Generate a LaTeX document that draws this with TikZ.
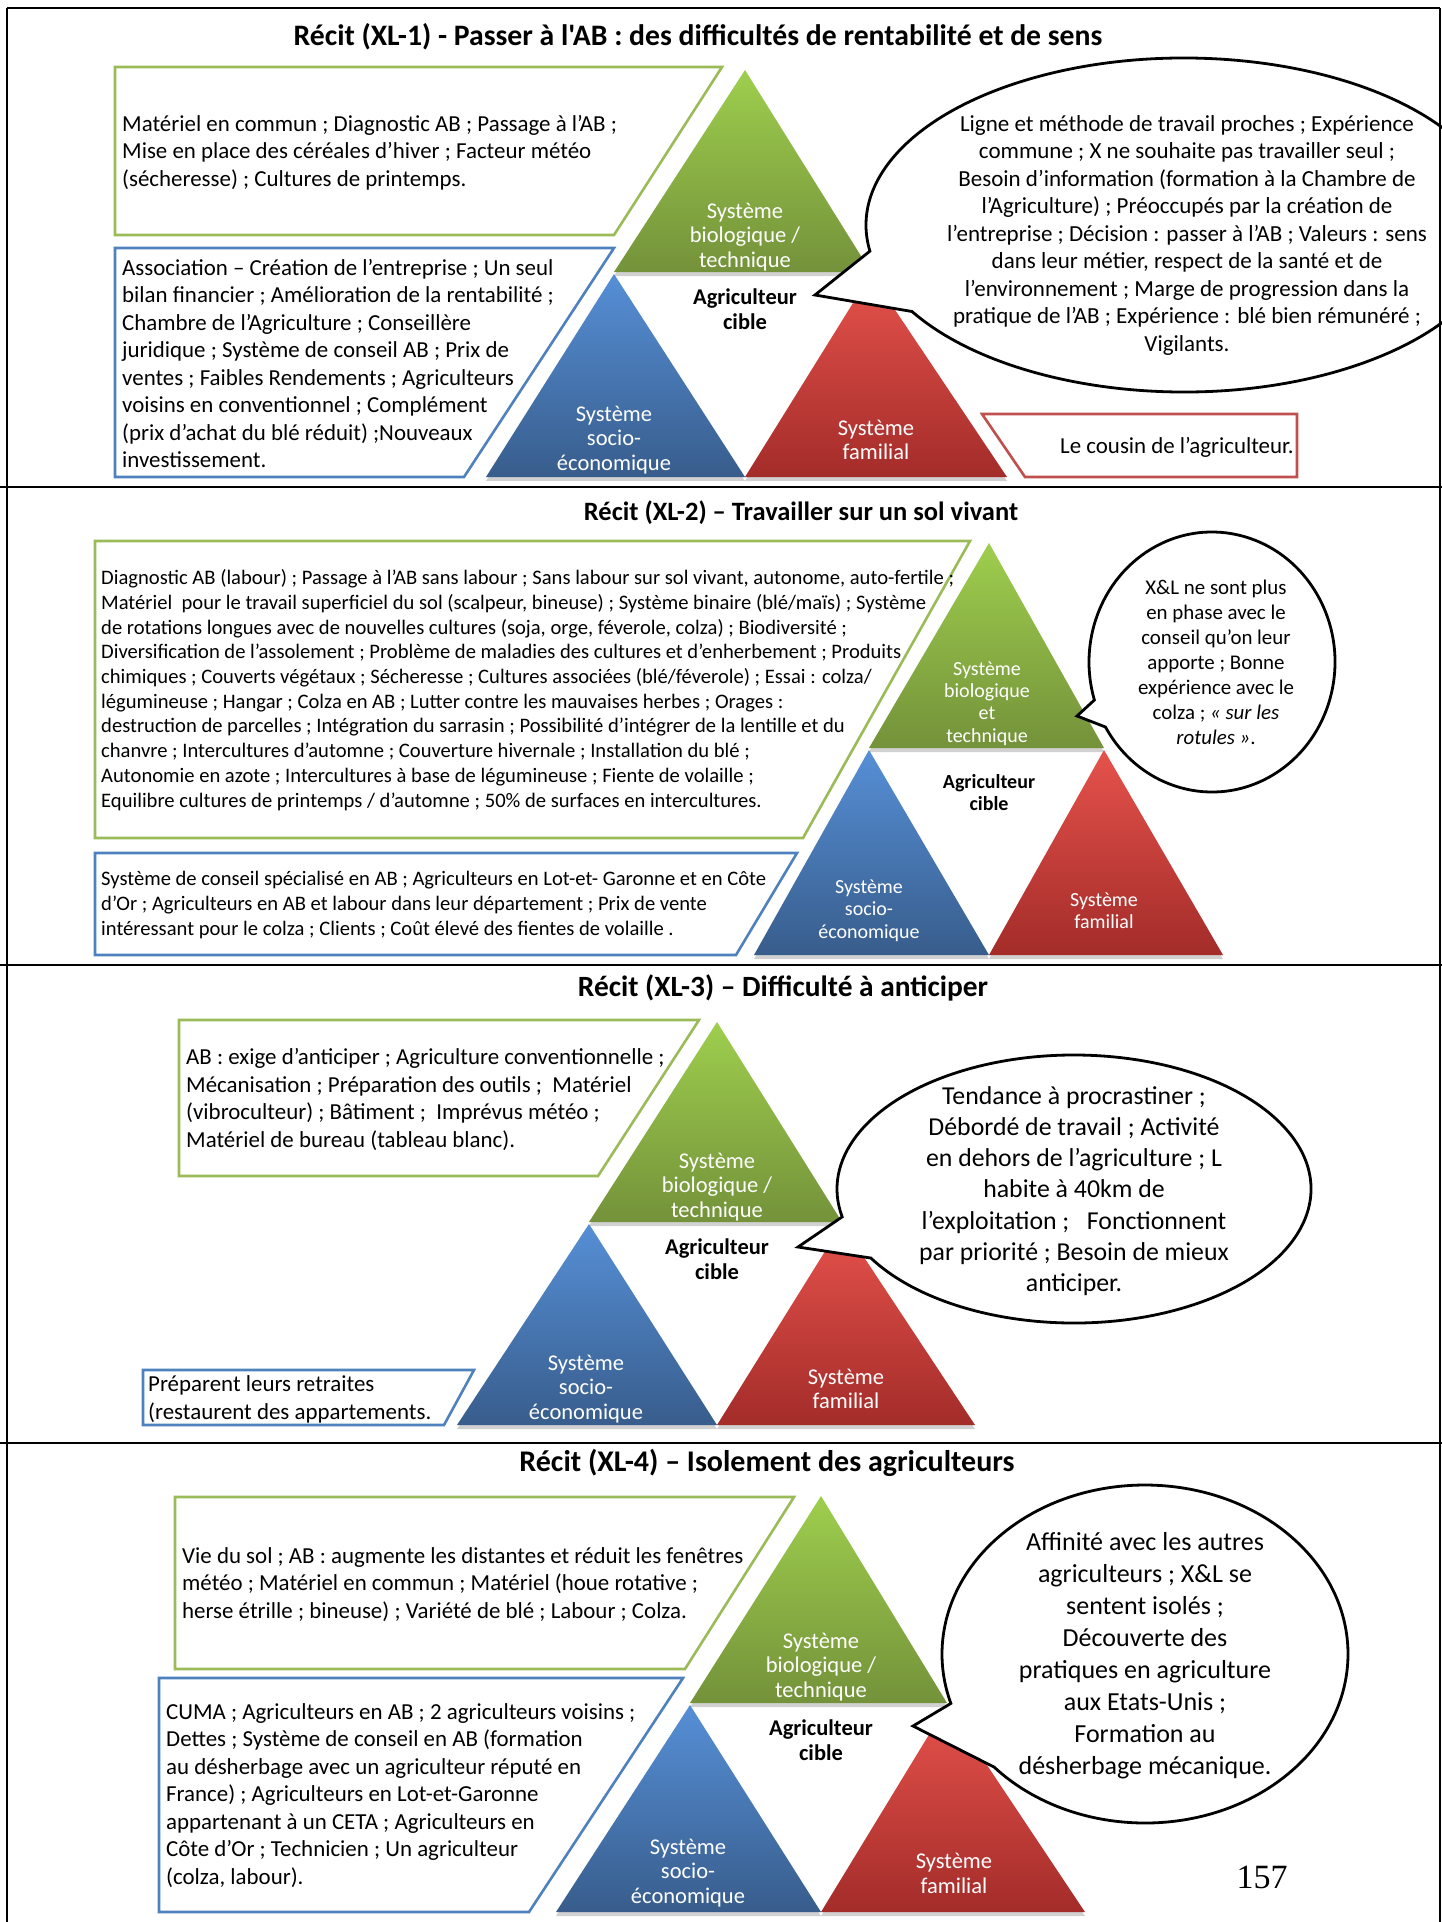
\documentclass[tikz,border=0pt]{standalone}
\usepackage{fontspec}
\setmainfont{Carlito}
\newfontfamily\plaincarlito{Carlito}[Ligatures=TeXOff]
\newfontfamily\timesf{Liberation Serif}
\definecolor{gline}{HTML}{9BBB59}
\definecolor{bline}{HTML}{4F81BD}
\definecolor{rline}{HTML}{C0504D}
\definecolor{gtop}{RGB}{158,206,78}
\definecolor{gbot}{RGB}{116,146,58}
\definecolor{btop}{RGB}{86,143,214}
\definecolor{bbot}{RGB}{56,93,140}
\definecolor{rtop}{RGB}{230,82,76}
\definecolor{rbot}{RGB}{163,44,41}
\begin{document}
\begin{tikzpicture}[x=1pt,y=-1pt,
  gbox/.style={draw=gline,line width=2.6pt,fill=white,line join=miter},
  bbox/.style={draw=bline,line width=2.6pt,fill=white,line join=miter},
  rbox/.style={draw=rline,line width=2.6pt,fill=white,line join=miter},
  gtri/.style={top color=gtop,bottom color=gbot},
  btri/.style={top color=btop,bottom color=bbot},
  rtri/.style={top color=rtop,bottom color=rbot},
  tshadow/.style={fill=black,opacity=0.18},
  bubble/.style={draw=black,fill=white,line width=2.8pt,line join=miter},
  boxtext/.style={anchor=west,align=left,inner sep=0pt,font=\fontsize{22.9}{27.5}\selectfont},
  smalltext/.style={anchor=west,align=left,inner sep=0pt,font=\fontsize{20.6}{24.7}\selectfont},
  bubtext/.style={anchor=center,align=center,inner sep=0pt,font=\fontsize{23}{27.5}\selectfont},
  tlabel/.style={anchor=center,align=center,inner sep=0pt,text=white,font=\fontsize{22.5}{24.7}\selectfont},
  clabel/.style={anchor=center,align=center,inner sep=0pt,font=\bfseries\fontsize{22.5}{25}\selectfont},
  recittitle/.style={anchor=center,inner sep=0pt,font=\bfseries\fontsize{29.5}{33}\selectfont},
  frameline/.style={draw=black,line width=2.6pt}
]
\useasboundingbox (0,0) rectangle (1442,1922);
\fill[white] (0,0) rectangle (1442,1922);

% ================= Panel 1 =================
\node[recittitle,font=\plaincarlito\bfseries\fontsize{29.7}{33}\selectfont] (t1) at (698,37) {Récit (XL-1) - Passer à l'AB : des difficultés de rentabilité et de sens};
\path[gbox] (115,67) -- (722,67) -- (614,235) -- (115,235) -- cycle;
\path[bbox] (115,248) -- (614,248) -- (464,477) -- (115,477) -- cycle;
\path[rbox] (982,414) -- (1297,414) -- (1297,477) -- (1025,477) -- cycle;
\fill[tshadow] (745,74) -- (614,276) -- (871,276) -- cycle;
\fill[tshadow] (614,278) -- (486,481) -- (745,481) -- cycle;
\fill[tshadow] (871,278) -- (745,481) -- (1007,481) -- cycle;
\shade[gtri] (745,70) -- (614,272) -- (871,272) -- cycle;
\shade[btri] (614,274) -- (486,477) -- (745,477) -- cycle;
\shade[rtri] (871,274) -- (745,477) -- (1007,477) -- cycle;
\path[bubble] ([shift={(1184,225)}]171:318 and 167) -- (815,295) -- ([shift={(1184,225)}]148.8:318 and 167)
  arc[start angle=148.8,end angle=-189,x radius=318,y radius=167] -- cycle;
\node[boxtext] (g1) at (122,152.5) {Matériel en commun ; Diagnostic AB ; Passage à l’AB ;\\Mise en place des céréales d’hiver ; Facteur météo\\(sécheresse) ; Cultures de printemps.};
\node[boxtext] (b1) at (122,363.5) {Association – Création de l’entreprise ; Un seul\\bilan financier ; Amélioration de la rentabilité ;\\Chambre de l’Agriculture ; Conseillère\\juridique ; Système de conseil AB ; Prix de\\ventes ; Faibles Rendements ; Agriculteurs\\voisins en conventionnel ; Complément\\(prix d’achat du blé réduit) ;Nouveaux\\investissement.};
\node[boxtext] (r1) at (1060,447) {Le cousin de l’agriculteur.};
\node[bubtext] (s1) at (1187,235) {Ligne et méthode de travail proches ; Expérience\\commune ; X ne souhaite pas travailler seul ;\\Besoin d’information (formation à la Chambre de\\l’Agriculture) ; Préoccupés par la création de\\l’entreprise ; Décision : passer à l’AB ; Valeurs : sens\\dans leur métier, respect de la santé et de\\l’environnement ; Marge de progression dans la\\pratique de l’AB ; Expérience : blé bien rémunéré ;\\Vigilants.};
\node[tlabel] (lg1) at (745,237) {Système\\biologique /\\technique};
\node[clabel] (lc1) at (745,309.5) {Agriculteur\\cible};
\node[tlabel] (lb1) at (614,440) {Système\\socio-\\économique};
\node[tlabel] (lr1) at (876,440) {Système\\familial};

% ================= Panel 2 =================
\node[recittitle,font=\bfseries\fontsize{26.5}{30}\selectfont] (t2) at (801,513) {Récit (XL-2) – Travailler sur un sol vivant};
\path[gbox] (95,541) -- (970,541) -- (803,838) -- (95,838) -- cycle;
\path[bbox] (95,853) -- (797,853) -- (736,955) -- (95,955) -- cycle;
\fill[tshadow] (989,547) -- (869,752) -- (1104,752) -- cycle;
\fill[tshadow] (869,754) -- (754,959) -- (989,959) -- cycle;
\fill[tshadow] (1104,754) -- (989,959) -- (1223,959) -- cycle;
\shade[gtri] (989,543) -- (869,748) -- (1104,748) -- cycle;
\shade[btri] (869,750) -- (754,955) -- (989,955) -- cycle;
\shade[rtri] (1104,750) -- (989,955) -- (1223,955) -- cycle;
\path[bubble] ([shift={(1212,662)}]163:123 and 130) -- (1077,716) -- ([shift={(1212,662)}]150:123 and 130)
  arc[start angle=150,end angle=-197,x radius=123,y radius=130] -- cycle;
\node[smalltext] (g2) at (101,690) {Diagnostic AB (labour) ; Passage à l’AB sans labour ; Sans labour sur sol vivant, autonome, auto-fertile ;\\Matériel\ \ pour le travail superficiel du sol (scalpeur, bineuse) ; Système binaire (blé/maïs) ; Système\\de rotations longues avec de nouvelles cultures (soja, orge, féverole, colza) ; Biodiversité ;\\Diversification de l’assolement ; Problème de maladies des cultures et d’enherbement\ ; Produits\\chimiques ; Couverts végétaux ; Sécheresse\ ; Cultures associées (blé/féverole) ; Essai : colza/\\légumineuse ; Hangar ; Colza en AB ; Lutter contre les mauvaises herbes ; Orages :\\destruction de parcelles ; Intégration du sarrasin ; Possibilité d’intégrer de la lentille et du\\chanvre ; Intercultures d’automne ; Couverture hivernale ; Installation du blé ;\\Autonomie en azote ; Intercultures à base de légumineuse ; Fiente de volaille ;\\Equilibre cultures de printemps / d’automne ; 50\% de surfaces en intercultures.};
\node[smalltext] (b2) at (101,905) {Système de conseil spécialisé en AB ; Agriculteurs en Lot-et- Garonne et en Côte\\d’Or ; Agriculteurs en AB et labour dans leur département ; Prix de vente\\intéressant pour le colza ; Clients ; Coût élevé des fientes de volaille .};
\node[bubtext,font=\fontsize{20.9}{24.9}\selectfont] (s2) at (1216,662.5) {X\&L ne sont plus\\en phase avec le\\conseil qu’on leur\\apporte ; Bonne\\expérience avec le\\colza ; \textit{« sur les}\\\textit{rotules »}.};
\node[tlabel,font=\fontsize{20}{22.3}\selectfont] (lg2) at (987,703.5) {Système\\biologique\\et\\technique};
\node[clabel,font=\bfseries\fontsize{20}{22.5}\selectfont] (lc2) at (989,792.5) {Agriculteur\\cible};
\node[tlabel,font=\fontsize{20}{22.3}\selectfont] (lb2) at (869,910.5) {Système\\socio-\\économique};
\node[tlabel,font=\fontsize{20}{22.3}\selectfont] (lr2) at (1104,911) {Système\\familial};

% ================= Panel 3 =================
\node[recittitle,font=\bfseries\fontsize{29.4}{33}\selectfont] (t3) at (783,988) {Récit (XL-3) – Difficulté à anticiper};
\path[gbox] (179,1020) -- (699,1020) -- (598,1176) -- (179,1176) -- cycle;
\path[bbox] (143,1370) -- (474,1370) -- (444,1425) -- (143,1425) -- cycle;
\fill[tshadow] (717,1026) -- (589,1226) -- (842,1226) -- cycle;
\fill[tshadow] (589,1228) -- (457,1429) -- (717,1429) -- cycle;
\fill[tshadow] (842,1228) -- (717,1429) -- (975,1429) -- cycle;
\shade[gtri] (717,1022) -- (589,1222) -- (842,1222) -- cycle;
\shade[btri] (589,1224) -- (457,1425) -- (717,1425) -- cycle;
\shade[rtri] (842,1224) -- (717,1425) -- (975,1425) -- cycle;
\path[bubble] ([shift={(1074,1189)}]168:237 and 134) -- (798,1247) -- ([shift={(1074,1189)}]149:237 and 134)
  arc[start angle=149,end angle=-192,x radius=237,y radius=134] -- cycle;
\node[boxtext] (g3) at (186,1099.5) {AB : exige d’anticiper ; Agriculture conventionnelle ;\\Mécanisation ; Préparation des outils ;\ \ Matériel\\(vibroculteur) ; Bâtiment ;\ \ Imprévus météo ;\\Matériel de bureau (tableau blanc).};
\node[boxtext] (b3) at (148,1399.5) {Préparent leurs retraites\\(restaurent des appartements.};
\node[bubtext,font=\fontsize{25.8}{31.2}\selectfont] (s3) at (1074,1191) {Tendance à procrastiner ;\\Débordé de travail ; Activité\\en dehors de l’agriculture ; L\\habite à 40km de\\l’exploitation ;\ \ \ Fonctionnent\\par priorité ; Besoin de mieux\\anticiper.};
\node[tlabel] (lg3) at (717,1187) {Système\\biologique /\\technique};
\node[clabel] (lc3) at (717,1259.5) {Agriculteur\\cible};
\node[tlabel] (lb3) at (586,1389) {Système\\socio-\\économique};
\node[tlabel] (lr3) at (846,1389) {Système\\familial};

% ================= Panel 4 =================
\node[recittitle,font=\bfseries\fontsize{30}{33}\selectfont] (t4) at (767,1463) {Récit (XL-4) – Isolement des agriculteurs};
\path[gbox] (175,1497) -- (794,1497) -- (685,1669) -- (175,1669) -- cycle;
\path[bbox] (159,1678) -- (683,1678) -- (529,1912) -- (159,1912) -- cycle;
\fill[tshadow] (821,1500) -- (690,1707) -- (947,1707) -- cycle;
\fill[tshadow] (690,1709) -- (556,1916) -- (821,1916) -- cycle;
\fill[tshadow] (947,1709) -- (821,1916) -- (1085,1916) -- cycle;
\shade[gtri] (821,1496) -- (690,1703) -- (947,1703) -- cycle;
\shade[btri] (690,1705) -- (556,1912) -- (821,1912) -- cycle;
\shade[rtri] (947,1705) -- (821,1912) -- (1085,1912) -- cycle;
\path[bubble] ([shift={(1145,1654)}]163:203 and 169) -- (913,1726) -- ([shift={(1145,1654)}]138:203 and 169)
  arc[start angle=138,end angle=-197,x radius=203,y radius=169] -- cycle;
\node[boxtext] (g4) at (182,1584.5) {Vie du sol ; AB : augmente les distantes et réduit les fenêtres\\météo ; Matériel en commun ; Matériel (houe rotative ;\\herse étrille ; bineuse) ; Variété de blé ; Labour ; Colza.};
\node[boxtext] (b4) at (166,1795.5) {CUMA ; Agriculteurs en AB ; 2 agriculteurs voisins ;\\Dettes ; Système de conseil en AB (formation\\au désherbage avec un agriculteur réputé en\\France) ; Agriculteurs en Lot-et-Garonne\\appartenant à un CETA ; Agriculteurs en\\Côte d’Or ; Technicien\ ; Un agriculteur\\(colza, labour).};
\node[bubtext,font=\fontsize{26}{32}\selectfont] (s4) at (1145,1655.5) {Affinité avec les autres\\agriculteurs ; X\&L se\\sentent isolés ;\\Découverte des\\pratiques en agriculture\\aux Etats-Unis ;\\Formation au\\désherbage mécanique.};
\node[tlabel] (lg4) at (821,1667) {Système\\biologique /\\technique};
\node[clabel] (lc4) at (821,1740) {Agriculteur\\cible};
\node[tlabel] (lb4) at (688,1873) {Système\\socio-\\économique};
\node[tlabel] (lr4) at (954,1873.5) {Système\\familial};
\node[anchor=center,inner sep=0pt,font=\timesf\fontsize{34}{40}\selectfont] (pg) at (1262,1877) {157};

% ================= Frame =================
\draw[frameline] (7,8) -- (1440,8);
\draw[frameline] (7,8) -- (7,1922);
\draw[frameline] (1440,8) -- (1440,1922);
\draw[frameline] (0,487) -- (1442,487);
\draw[frameline] (0,965) -- (1442,965);
\draw[frameline] (0,1443) -- (1442,1443);
\end{tikzpicture}
\end{document}
